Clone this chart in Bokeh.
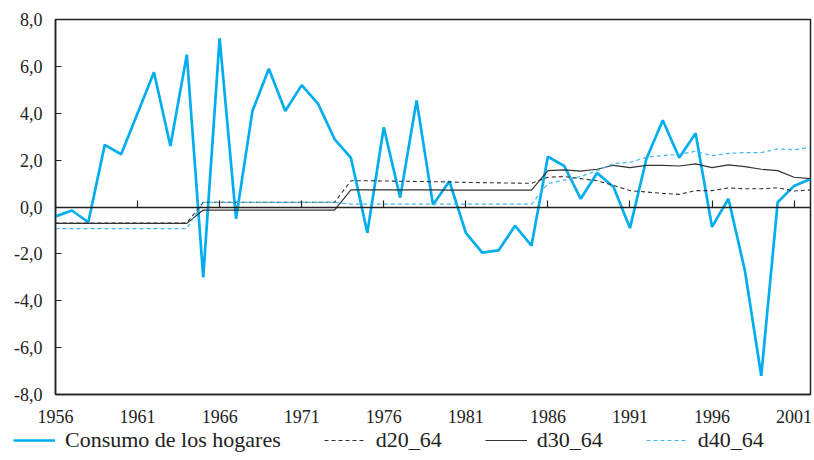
from bokeh.plotting import figure
from bokeh.models import (Range1d, FixedTicker, LinearAxis, Legend, LegendItem,
                          CustomJSTickFormatter)
from bokeh.embed import file_html
from bokeh.resources import INLINE

# ---------------- data ----------------
years = list(range(1956, 2003))

consumo = [-0.4, -0.15, -0.65, 2.65, 2.25, 4.0, 5.75, 2.6, 6.5, -3.0,
           7.2, -0.5, 4.1, 5.9, 4.1, 5.2, 4.4, 2.9, 2.1, -1.1,
           3.4, 0.4, 4.55, 0.1, 1.1, -1.1, -1.95, -1.85, -0.8, -1.65,
           2.15, 1.75, 0.35, 1.45, 0.85, -0.9, 2.05, 3.7, 2.1, 3.15,
           -0.85, 0.35, -2.7, -7.2, 0.2, 0.9, 1.2]

d20_64 = [-0.68, -0.68, -0.68, -0.68, -0.68, -0.68, -0.68, -0.68, -0.68,
          0.2, 0.2, 0.2, 0.2, 0.2, 0.2, 0.2, 0.2, 0.2,
          1.12, 1.12, 1.11, 1.10, 1.09, 1.08, 1.07, 1.05, 1.04, 1.03, 1.02, 1.01,
          1.27, 1.30, 1.21, 1.12, 0.92, 0.70, 0.64, 0.58, 0.54, 0.70,
          0.70, 0.81, 0.78, 0.78, 0.82, 0.68, 0.73]

d30_64 = [-0.7, -0.7, -0.7, -0.7, -0.7, -0.7, -0.7, -0.7, -0.7,
          -0.13, -0.13, -0.13, -0.13, -0.13, -0.13, -0.13, -0.13, -0.13,
          0.73, 0.73, 0.73, 0.73, 0.73, 0.73, 0.72, 0.72, 0.72, 0.72, 0.72, 0.72,
          1.55, 1.58, 1.53, 1.61, 1.78, 1.68, 1.78, 1.78, 1.75, 1.84,
          1.68, 1.80, 1.72, 1.61, 1.55, 1.27, 1.21]

d40_64 = [-0.92, -0.92, -0.92, -0.92, -0.92, -0.92, -0.92, -0.92, -0.92,
          0.2, 0.2, 0.2, 0.2, 0.2, 0.2, 0.2, 0.2, 0.2,
          0.12, 0.12, 0.12, 0.12, 0.12, 0.12, 0.12, 0.12, 0.12, 0.12, 0.12, 0.12,
          1.0, 1.15, 1.3, 1.55, 1.86, 1.9, 2.12, 2.2, 2.24, 2.38,
          2.19, 2.29, 2.32, 2.32, 2.48, 2.44, 2.55]

series = [consumo, d20_64, d30_64, d40_64]
series_names = ["Consumo de los hogares", "d20_64", "d30_64", "d40_64"]

x_ticks = [1956, 1961, 1966, 1971, 1976, 1981, 1986, 1991, 1996, 2001]
y_ticks = [-8, -6, -4, -2, 0, 2, 4, 6, 8]
y_labels = ["-8,0", "-6,0", "-4,0", "-2,0", "0,0", "2,0", "4,0", "6,0", "8,0"]

# ---------------- styles ----------------
FONT = "Liberation Serif"
INK = "#222222"
styles = [dict(line_color="#00AEEF", line_width=2.7),
          dict(line_color="#333333", line_width=1.1, line_dash="4 3"),
          dict(line_color="#333333", line_width=1.2),
          dict(line_color="#3FB8EC", line_width=1.2, line_dash="4 3")]

# ---------------- main figure ----------------
p = figure(width=812, height=430, output_backend="svg", toolbar_location=None,
           x_range=Range1d(1956, 2002), y_range=Range1d(-8, 8),
           min_border_left=55, min_border_right=2, min_border_top=19,
           min_border_bottom=36, background_fill_color="white",
           border_fill_color="white")

p.xgrid.visible = False
p.ygrid.visible = False
p.outline_line_color = INK
p.outline_line_width = 1.5
p.outline_line_alpha = 1

xa = p.xaxis[0]
xa.ticker = FixedTicker(ticks=x_ticks)
xa.major_tick_in = 0
xa.major_tick_out = 0
xa.minor_tick_line_color = None
xa.axis_line_color = INK
xa.axis_line_width = 1.5
xa.major_label_text_font = FONT
xa.major_label_text_font_size = "18px"
xa.major_label_text_color = INK
xa.major_label_standoff = 15

ya = p.yaxis[0]
ya.ticker = FixedTicker(ticks=y_ticks)
ya.major_label_overrides = {t: s for t, s in zip(y_ticks, y_labels)}
ya.major_tick_in = 6
ya.major_tick_out = 0
ya.major_tick_line_color = INK
ya.major_tick_line_width = 1.2
ya.minor_tick_line_color = None
ya.axis_line_color = INK
ya.axis_line_width = 1.5
ya.major_label_text_font = FONT
ya.major_label_text_font_size = "18px"
ya.major_label_text_color = INK
ya.major_label_standoff = 13

# zero line with its tick marks
zero_axis = LinearAxis(fixed_location=0, ticker=FixedTicker(ticks=x_ticks),
                       formatter=CustomJSTickFormatter(code="return ''"),
                       major_tick_in=7, major_tick_out=0,
                       major_tick_line_color=INK, major_tick_line_width=1.2,
                       minor_tick_line_color=None,
                       axis_line_color=INK, axis_line_width=1.5,
                       major_label_text_font_size="1px", major_label_standoff=0)
p.add_layout(zero_axis, "below")

for ys, st in zip(series, styles):
    p.line(years, ys, **st)

# ---------------- legend strip (transparent, slightly overlapping) ----------------
lf = figure(width=812, height=40, output_backend="svg", toolbar_location=None,
            x_range=Range1d(1956, 2002), y_range=Range1d(100, 101),
            x_axis_type=None, y_axis_type=None,
            min_border_left=0, min_border_right=0, min_border_top=0,
            min_border_bottom=0, background_fill_alpha=0,
            border_fill_alpha=0, styles={"margin-top": "-10px"})
lf.xgrid.visible = False
lf.ygrid.visible = False
lf.outline_line_color = None

legend_renderers = [lf.line(years, ys, **st) for ys, st in zip(series, styles)]
items = [LegendItem(label=n, renderers=[r]) for n, r in zip(series_names, legend_renderers)]
legend = Legend(items=items, orientation="horizontal", location=(13, 7),
                padding=0, margin=0, spacing=43, label_standoff=10,
                glyph_width=42, glyph_height=20, label_height=20,
                label_text_font=FONT, label_text_font_size="22px",
                label_text_color=INK, border_line_color=None,
                background_fill_alpha=0)
lf.add_layout(legend, "center")

open("out.html", "w").write(file_html([p, lf], INLINE))
